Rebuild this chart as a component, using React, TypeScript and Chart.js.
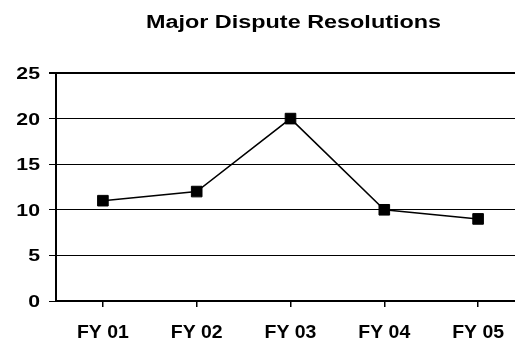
import { useEffect, useRef } from "react";
import { Chart, registerables } from "chart.js";

Chart.register(...registerables);

const TITLE = "Major Dispute Resolutions";
const categories = ["FY 01", "FY 02", "FY 03", "FY 04", "FY 05"];
const resolutions = [11, 12, 20, 10, 9];
const yMin = 0;
const yMax = 25;
const yStep = 5;

const FONT = "'Liberation Sans', Arial, sans-serif";

// Text in this chart is set in a horizontally widened bold face.
function drawWideText(
  ctx: CanvasRenderingContext2D,
  text: string,
  x: number,
  y: number,
  size: number,
  stretch: number,
  align: CanvasTextAlign
) {
  ctx.save();
  ctx.translate(x, y);
  ctx.scale(stretch, 1);
  ctx.font = `bold ${size}px ${FONT}`;
  ctx.fillStyle = "#000";
  ctx.textAlign = align;
  ctx.textBaseline = "alphabetic";
  ctx.fillText(text, 0, 0);
  ctx.restore();
}

// Heading and axis labels, placed from the chart's own scales.
const labelsPlugin = {
  id: "wideLabels",
  afterDraw(chart: any) {
    const { ctx, chartArea, scales } = chart;
    const xScale = scales.x;
    const yScale = scales.y;

    drawWideText(ctx, TITLE, (chartArea.left + chartArea.right) / 2 + 3, 28, 18, 1.3, "center");

    yScale.ticks.forEach((tick: any, i: number) => {
      const y = yScale.getPixelForTick(i);
      drawWideText(ctx, String(tick.value), yScale.right - 16, y + 6, 17, 1.25, "right");
    });

    xScale.ticks.forEach((tick: any, i: number) => {
      const x = xScale.getPixelForTick(i);
      const label = xScale.getLabelForValue(tick.value);
      drawWideText(ctx, label, x, xScale.top + 37, 18, 1.08, "center");
    });
  },
};

export default function App() {
  const canvasRef = useRef<HTMLCanvasElement | null>(null);

  useEffect(() => {
    const canvas = canvasRef.current;
    if (!canvas) return;
    const chart = new Chart(canvas, {
      type: "line",
      data: {
        labels: categories,
        datasets: [
          {
            label: TITLE,
            data: resolutions,
            borderColor: "#000",
            backgroundColor: "#000",
            borderWidth: 1.5,
            pointStyle: "rect",
            pointRadius: 7.5,
            pointBorderWidth: 1,
            pointBackgroundColor: "#000",
            pointBorderColor: "#000",
            tension: 0,
          },
        ],
      },
      options: {
        animation: false,
        responsive: false,
        devicePixelRatio: 1,
        layout: { autoPadding: false, padding: { top: 73, left: 0, right: 0, bottom: 0 } },
        plugins: {
          legend: { display: false },
          title: { display: false },
          tooltip: { enabled: false },
        },
        scales: {
          x: {
            type: "category",
            offset: true,
            grid: {
              display: true,
              drawOnChartArea: false,
              drawTicks: true,
              tickLength: 6,
              color: "#000",
              lineWidth: 1.5,
            },
            border: { display: true, color: "#000", width: 2 },
            ticks: { display: false, autoSkip: false, maxRotation: 0 },
            afterFit: (axis: any) => {
              axis.height = 41;
            },
          },
          y: {
            min: yMin,
            max: yMax,
            ticks: { display: false, stepSize: yStep },
            grid: {
              color: "#000",
              lineWidth: (c: any) => (c.tick && c.tick.value === yMax ? 2 : 1),
              drawTicks: true,
              tickLength: 7,
            },
            border: { display: true, color: "#000", width: 2 },
            afterFit: (axis: any) => {
              axis.width = 56;
            },
          },
        },
      },
      plugins: [labelsPlugin],
    });
    return () => chart.destroy();
  }, []);

  return (
    <div
      style={{
        position: "absolute",
        left: 0,
        top: 0,
        width: 515,
        height: 342,
        overflow: "hidden",
        background: "#fff",
      }}
    >
      <canvas
        ref={canvasRef}
        width={525}
        height={342}
        style={{ display: "block", width: 525, height: 342 }}
      />
    </div>
  );
}
